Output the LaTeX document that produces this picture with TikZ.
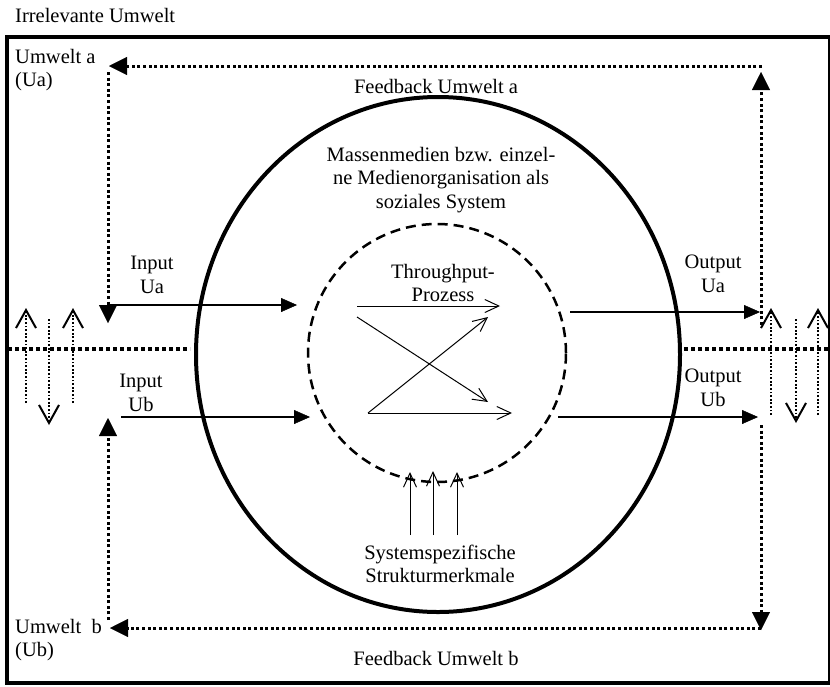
\documentclass[tikz,border=0pt]{standalone}
\usepackage{fontspec}
\setmainfont{Liberation Serif}
\usetikzlibrary{arrows.meta,shapes.geometric}
\begin{document}
\begin{tikzpicture}[x=1pt,y=-1pt,
  txt/.style={font=\fontsize{20.5}{23.5}\selectfont, inner sep=0pt, align=center},
  frame/.style={line width=3.5pt},
  fb/.style={line width=3pt, dash pattern=on 3pt off 2.6pt},
  fbtip/.style={-{Triangle[length=18pt,width=18pt,line width=0.4pt]}},
  inarrow/.style={line width=1.7pt, -{Triangle[length=16pt,width=14pt,line width=0.4pt]}},
  thru/.style={line width=1pt, -{Straight Barb[length=14pt,width=13pt,line width=1pt]}},
  sepline/.style={line width=4pt, dash pattern=on 4pt off 3pt},
  updown/.style={line width=1.8pt, dash pattern=on 1.8pt off 1.8pt, -{Straight Barb[length=18pt,width=20pt,line width=2pt]}}
]
\useasboundingbox (0,0) rectangle (830,686);
% frame
\draw[frame] (7,37) rectangle (830,683);

% main shapes
\node[draw, ellipse, line width=4pt, minimum width=484pt, minimum height=515pt, inner sep=0pt] (sysell) at (438,354.5) {};
\node[draw, circle, line width=2.5pt, dash pattern=on 10pt off 6pt, minimum size=258pt, inner sep=0pt] (core) at (437,353) {};

% texts
\node[txt, anchor=west] (irr) at (15,15) {Irrelevante Umwelt};
\node[txt, align=left, anchor=west] (ua) at (15,70) {Umwelt a\\(Ua)};
\node[txt, align=left, anchor=west] (ub) at (15,640) {Umwelt\ \ b\\(Ub)};
\node[txt] (fba) at (436,86) {Feedback Umwelt a};
\node[txt] (fbb) at (436,658) {Feedback Umwelt b};
\node[txt] (sys) at (441,180) {Massenmedien bzw. einzel-\\ne Medienorganisation als\\soziales System};
\node[txt] (thr) at (443,283) {Throughput-\\Prozess};
\node[txt] (ina) at (152,275) {Input\\Ua};
\node[txt] (inb) at (141,393) {Input\\Ub};
\node[txt] (outa) at (713,274) {Output\\Ua};
\node[txt] (outb) at (713,388) {Output\\Ub};
\node[txt] (ssm) at (440,564) {Systemspezifische\\Strukturmerkmale};

% middle separator
\coordinate (sL1) at (8,349);   \coordinate (sL2) at (190,349);
\coordinate (sR1) at (684,349); \coordinate (sR2) at (830,349);
\draw[sepline] (sL1) -- (sL2);
\draw[sepline] (sR1) -- (sR2);

% feedback a
\coordinate (fa1) at (761,325); \coordinate (fa2) at (761,72);
\coordinate (fa3) at (762,66);  \coordinate (fa4) at (109,66);
\coordinate (fa5) at (108,72);  \coordinate (fa6) at (108,323);
\draw[fb, fbtip] (fa1) -- (fa2);
\draw[fb, fbtip] (fa3) -- (fa4);
\draw[fb, fbtip] (fa5) -- (fa6);

% feedback b
\coordinate (fb1) at (761,425); \coordinate (fb2) at (761,630);
\coordinate (fb3) at (761,628); \coordinate (fb4) at (110,628);
\coordinate (fb5) at (108,620); \coordinate (fb6) at (108,418);
\draw[fb, fbtip] (fb1) -- (fb2);
\draw[fb, fbtip] (fb3) -- (fb4);
\draw[fb, fbtip] (fb5) -- (fb6);

% inputs / outputs
\coordinate (ia1) at (108,305); \coordinate (ia2) at (297,305);
\coordinate (ib1) at (121,417); \coordinate (ib2) at (310,417);
\coordinate (oa1) at (570,312); \coordinate (oa2) at (760,312);
\coordinate (ob1) at (558,417); \coordinate (ob2) at (758,417);
\draw[inarrow] (ia1) -- (ia2);
\draw[inarrow] (ib1) -- (ib2);
\draw[inarrow] (oa1) -- (oa2);
\draw[inarrow] (ob1) -- (ob2);

% throughput
\coordinate (t1) at (357,306); \coordinate (t2) at (500,306);
\coordinate (t3) at (357,317); \coordinate (t4) at (488,402);
\coordinate (t5) at (368,413); \coordinate (t6) at (488,317);
\coordinate (t7) at (512,413);
\draw[thru] (t1) -- (t2);
\draw[thru] (t3) -- (t4);
\draw[thru] (t5) -- (t6);
\draw[thru] (t5) -- (t7);

% structural features
\coordinate (s1a) at (410,535); \coordinate (s1b) at (410,472);
\coordinate (s2a) at (433,535); \coordinate (s2b) at (433,471);
\coordinate (s3a) at (457,535); \coordinate (s3b) at (457,472);
\draw[thru] (s1a) -- (s1b);
\draw[thru] (s2a) -- (s2b);
\draw[thru] (s3a) -- (s3b);

% exchange arrows left
\coordinate (l1a) at (26,403); \coordinate (l1b) at (26,308);
\coordinate (l2a) at (49,319); \coordinate (l2b) at (49,425);
\coordinate (l3a) at (73,403); \coordinate (l3b) at (73,308);
\draw[updown] (l1a) -- (l1b);
\draw[updown] (l2a) -- (l2b);
\draw[updown] (l3a) -- (l3b);
% exchange arrows right
\coordinate (r1a) at (771,415); \coordinate (r1b) at (771,308);
\coordinate (r2a) at (796,319); \coordinate (r2b) at (796,423);
\coordinate (r3a) at (818,415); \coordinate (r3b) at (818,308);
\draw[updown] (r1a) -- (r1b);
\draw[updown] (r2a) -- (r2b);
\draw[updown] (r3a) -- (r3b);
\end{tikzpicture}
\end{document}
